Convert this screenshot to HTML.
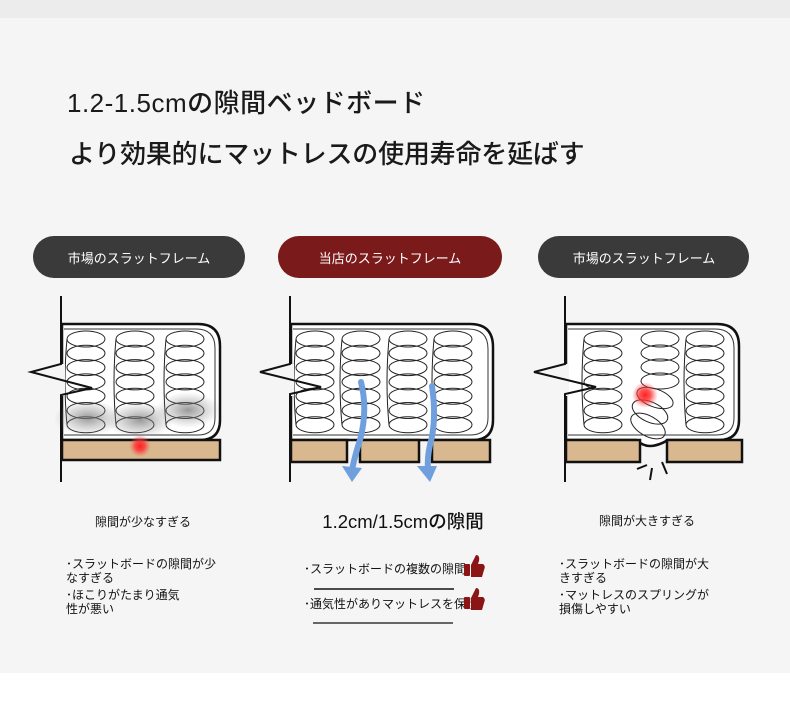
<!DOCTYPE html>
<html><head><meta charset="utf-8"><style>
html,body{margin:0;padding:0;}
body{width:790px;height:713px;overflow:hidden;background:#fff;font-family:"Liberation Sans","Noto Sans CJK JP",sans-serif;}
svg{display:block}
text{font-family:"Liberation Sans","Noto Sans CJK JP",sans-serif;}
</style></head><body>
<svg width="790" height="713" viewBox="0 0 790 713" xmlns="http://www.w3.org/2000/svg">
<defs>
<g id="col" fill="none" stroke="#222" stroke-width="1">
<ellipse cx="0" cy="0" rx="19" ry="8"/>
<ellipse cx="0" cy="14.3" rx="19" ry="8"/>
<ellipse cx="0" cy="28.6" rx="19" ry="8"/>
<ellipse cx="0" cy="42.9" rx="19" ry="8"/>
<ellipse cx="0" cy="57.2" rx="19" ry="8"/>
<ellipse cx="0" cy="71.5" rx="19" ry="8"/>
<ellipse cx="0" cy="85.8" rx="19" ry="8"/>
<path d="M-19 0 Q-23 43 -19 86" />
</g>
<radialGradient id="red"><stop offset="0" stop-color="#ff2020"/><stop offset="0.45" stop-color="#ff3030" stop-opacity="0.8"/><stop offset="1" stop-color="#ff6060" stop-opacity="0"/></radialGradient>
<radialGradient id="gray"><stop offset="0" stop-color="#777" stop-opacity="0.75"/><stop offset="1" stop-color="#999" stop-opacity="0"/></radialGradient>
</defs>
<rect x="0" y="0" width="790" height="18" fill="#ececec"/>
<rect x="0" y="18" width="790" height="655" fill="#f5f5f5"/>

<text x="67" y="112" font-size="26" font-weight="500" fill="#1a1a1a" letter-spacing="0.5">1.2-1.5cmの隙間ベッドボード</text>
<text x="69" y="163" font-size="26" font-weight="500" fill="#1a1a1a" letter-spacing="-0.2">より効果的にマットレスの使用寿命を延ばす</text>

<rect x="33" y="236" width="212" height="42" rx="21" fill="#3a3a3a"/>
<text x="139" y="263" font-size="13" fill="#fff" text-anchor="middle">市場のスラットフレーム</text>
<rect x="278" y="236" width="224" height="42" rx="21" fill="#7b1a1a"/>
<text x="390" y="263" font-size="13" fill="#fff" text-anchor="middle">当店のスラットフレーム</text>
<rect x="538" y="236" width="211" height="42" rx="21" fill="#3a3a3a"/>
<text x="644" y="263" font-size="13" fill="#fff" text-anchor="middle">市場のスラットフレーム</text>

<!-- Diagram 1 -->
<path d="M62 324 H198 Q220 324 220 346 V420 Q220 440 200 440 H62 Z" fill="#fff" stroke="#111" stroke-width="2.5"/>
<path d="M64 329 H196 Q215 329 215 348 V418 Q215 435 198 435 H64" fill="none" stroke="#333" stroke-width="1"/>
<use href="#col" x="86" y="339"/><use href="#col" x="135" y="339"/><use href="#col" x="185" y="339"/>
<ellipse cx="88" cy="418" rx="34" ry="18" fill="url(#gray)"/>
<ellipse cx="140" cy="420" rx="34" ry="18" fill="url(#gray)"/>
<ellipse cx="188" cy="410" rx="32" ry="18" fill="url(#gray)"/>
<rect x="62" y="440" width="158" height="20" fill="#d9b88f" stroke="#111" stroke-width="2.5"/>
<circle cx="140" cy="446" r="11" fill="url(#red)"/>
<rect x="59" y="364" width="6" height="32" fill="#f5f5f5"/>
<path d="M61 296 V364 L31 372 L92 388 L61 395 V482" fill="none" stroke="#111" stroke-width="2"/>

<!-- Diagram 2 -->
<path d="M291 324 H470 Q493 324 493 347 V420 Q493 440 473 440 H291 Z" fill="#fff" stroke="#111" stroke-width="2.5"/>
<path d="M293 329 H468 Q488 329 488 349 V418 Q488 435 470 435 H293" fill="none" stroke="#333" stroke-width="1"/>
<use href="#col" x="315" y="339"/><use href="#col" x="361" y="339"/><use href="#col" x="408" y="339"/><use href="#col" x="453" y="339"/>
<rect x="291" y="440" width="56" height="22" fill="#d9b88f" stroke="#111" stroke-width="2.5"/>
<rect x="360" y="440" width="59" height="22" fill="#d9b88f" stroke="#111" stroke-width="2.5"/>
<rect x="432" y="440" width="58" height="22" fill="#d9b88f" stroke="#111" stroke-width="2.5"/>
<path d="M361 382 Q368 410 360 440 Q355 455 352 470" fill="none" stroke="#6fa0dd" stroke-width="6" stroke-linecap="round"/>
<path d="M342 466 L352 482 L362 468 Z" fill="#6fa0dd"/>
<path d="M432 386 Q437 420 430 445 Q427 458 428 470" fill="none" stroke="#6fa0dd" stroke-width="6" stroke-linecap="round"/>
<path d="M417 466 L430 482 L437 466 Z" fill="#6fa0dd"/>
<rect x="288" y="364" width="6" height="32" fill="#f5f5f5"/>
<path d="M290 296 V364 L260 372 L321 387 L290 394 V482" fill="none" stroke="#111" stroke-width="2"/>

<!-- Diagram 3 -->
<path d="M566 324 H717 Q739 324 739 346 V420 Q739 440 719 440 H668 Q658 446 650 446 Q643 446 636 440 H566 Z" fill="#fff" stroke="#111" stroke-width="2.5"/>
<path d="M568 329 H715 Q734 329 734 348 V418 Q734 435 716 435 H568" fill="none" stroke="#333" stroke-width="1"/>
<use href="#col" x="603" y="339"/><use href="#col" x="705" y="339"/>
<g fill="none" stroke="#222" stroke-width="1">
<ellipse cx="660" cy="339" rx="19" ry="8"/><ellipse cx="660" cy="353" rx="19" ry="8"/><ellipse cx="660" cy="367" rx="19" ry="8"/><ellipse cx="660" cy="381" rx="19" ry="8"/>
<ellipse cx="655" cy="398" rx="19" ry="9" transform="rotate(20 655 398)"/>
<ellipse cx="650" cy="412" rx="19" ry="10" transform="rotate(25 650 412)"/>
<ellipse cx="648" cy="426" rx="19" ry="10" transform="rotate(30 648 426)"/>
</g>
<circle cx="645" cy="395" r="13" fill="url(#red)"/>
<rect x="566" y="440" width="74" height="22" fill="#d9b88f" stroke="#111" stroke-width="2.5"/>
<rect x="667" y="440" width="75" height="22" fill="#d9b88f" stroke="#111" stroke-width="2.5"/>
<path d="M637 469 L647 465 M652 468 L650 480 M662 462 L667 474" stroke="#111" stroke-width="2"/>
<rect x="563" y="364" width="6" height="32" fill="#f5f5f5"/>
<path d="M565 296 V364 L534 372 L596 387 L565 394 V482" fill="none" stroke="#111" stroke-width="2"/>

<!-- captions -->
<text x="143" y="526" font-size="12" fill="#111" text-anchor="middle">隙間が少なすぎる</text>
<text x="66" y="568" font-size="12" fill="#111">･スラットボードの隙間が少</text>
<text x="66" y="582" font-size="12" fill="#111">なすぎる</text>
<text x="66" y="599" font-size="12" fill="#111">･ほこりがたまり通気</text>
<text x="66" y="613" font-size="12" fill="#111">性が悪い</text>

<text x="403" y="528" font-size="18.5" font-weight="500" fill="#111" text-anchor="middle">1.2cm/1.5cmの隙間</text>
<text x="304" y="573" font-size="12" fill="#111">･スラットボードの複数の隙間</text>
<line x1="314" y1="589" x2="454" y2="589" stroke="#111" stroke-width="1.5"/>
<text x="304" y="608" font-size="12" fill="#111">･通気性がありマットレスを保護</text>
<line x1="313" y1="623" x2="453" y2="623" stroke="#111" stroke-width="1.2"/>
<g fill="#8b1515">
<rect x="464" y="564" width="6" height="12" rx="1"/><path d="M471 565 L476 555 Q480 555 479 561 L478 564 L483 564 Q486 566 484 570 L482 577 L471 577 Z"/>
<rect x="464" y="597" width="6" height="12" rx="1"/><path d="M471 598 L476 588 Q480 588 479 594 L478 597 L483 597 Q486 599 484 603 L482 610 L471 610 Z"/>
</g>

<text x="647" y="525" font-size="12" fill="#111" text-anchor="middle">隙間が大きすぎる</text>
<text x="559" y="568" font-size="12" fill="#111">･スラットボードの隙間が大</text>
<text x="559" y="582" font-size="12" fill="#111">きすぎる</text>
<text x="559" y="599" font-size="12" fill="#111">･マットレスのスプリングが</text>
<text x="559" y="613" font-size="12" fill="#111">損傷しやすい</text>
</svg>
</body></html>
